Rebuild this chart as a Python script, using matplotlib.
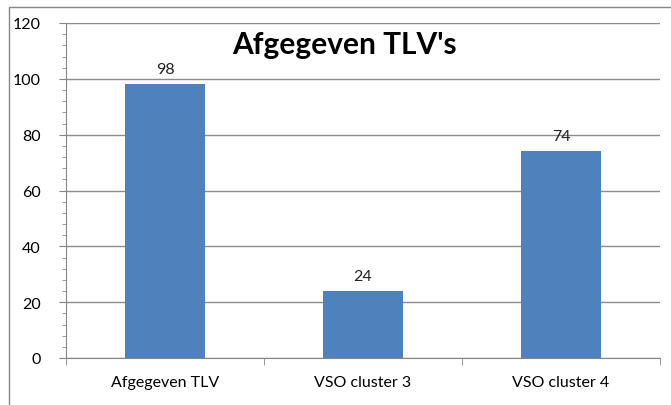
import numpy as np
import matplotlib.pyplot as plt
from matplotlib.patches import Rectangle
from matplotlib.ticker import MultipleLocator

plt.rcParams['font.family'] = ['Lato', 'DejaVu Sans']

categories = ['Afgegeven TLV', 'VSO cluster 3', 'VSO cluster 4']
values = [98, 24, 74]

fig = plt.figure(figsize=(6.71, 4.06), dpi=100)
ax = fig.add_axes([66/671, 1 - 359/406, 594/671, 335/406])

x = np.arange(len(categories))
bars = ax.bar(x, values, width=0.4, color='#4F81BD', zorder=3)
for xi, v in zip(x, values):
    ax.text(xi, v + 3, str(v), ha='center', va='bottom', fontsize=11.5, color='#222222')

ax.set_xlim(-0.5, 2.5)
ax.set_ylim(0, 120)
ax.yaxis.set_major_locator(MultipleLocator(20))
ax.yaxis.set_minor_locator(MultipleLocator(4))
ax.set_xticks(x)
ax.set_xticklabels(categories, fontsize=11.5)
ax.set_xticks([-0.5, 0.5, 1.5, 2.5], minor=True)
ax.tick_params(axis='x', which='major', length=0, pad=12)
ax.tick_params(axis='x', which='minor', length=5, color='#868686')
ax.tick_params(axis='y', which='major', length=5, color='#868686', labelsize=11.5, pad=13)
ax.tick_params(axis='y', which='minor', length=3, color='#868686')
ax.grid(axis='y', which='major', color='#8c8c8c', linewidth=1, zorder=0)
for s in ['top', 'right']:
    ax.spines[s].set_visible(False)
for s in ['left', 'bottom']:
    ax.spines[s].set_color('#868686')

fig.text(344/671, 1 - 45/406, "Afgegeven TLV's", ha='center', va='center',
         fontsize=21.5, fontweight='bold')

fig.patches.append(Rectangle((9/671, -0.1), 1.2, 1 - 8/406 + 0.1, transform=fig.transFigure,
                             fill=False, edgecolor='#868686', linewidth=1))

plt.savefig('out.png', dpi=100)
